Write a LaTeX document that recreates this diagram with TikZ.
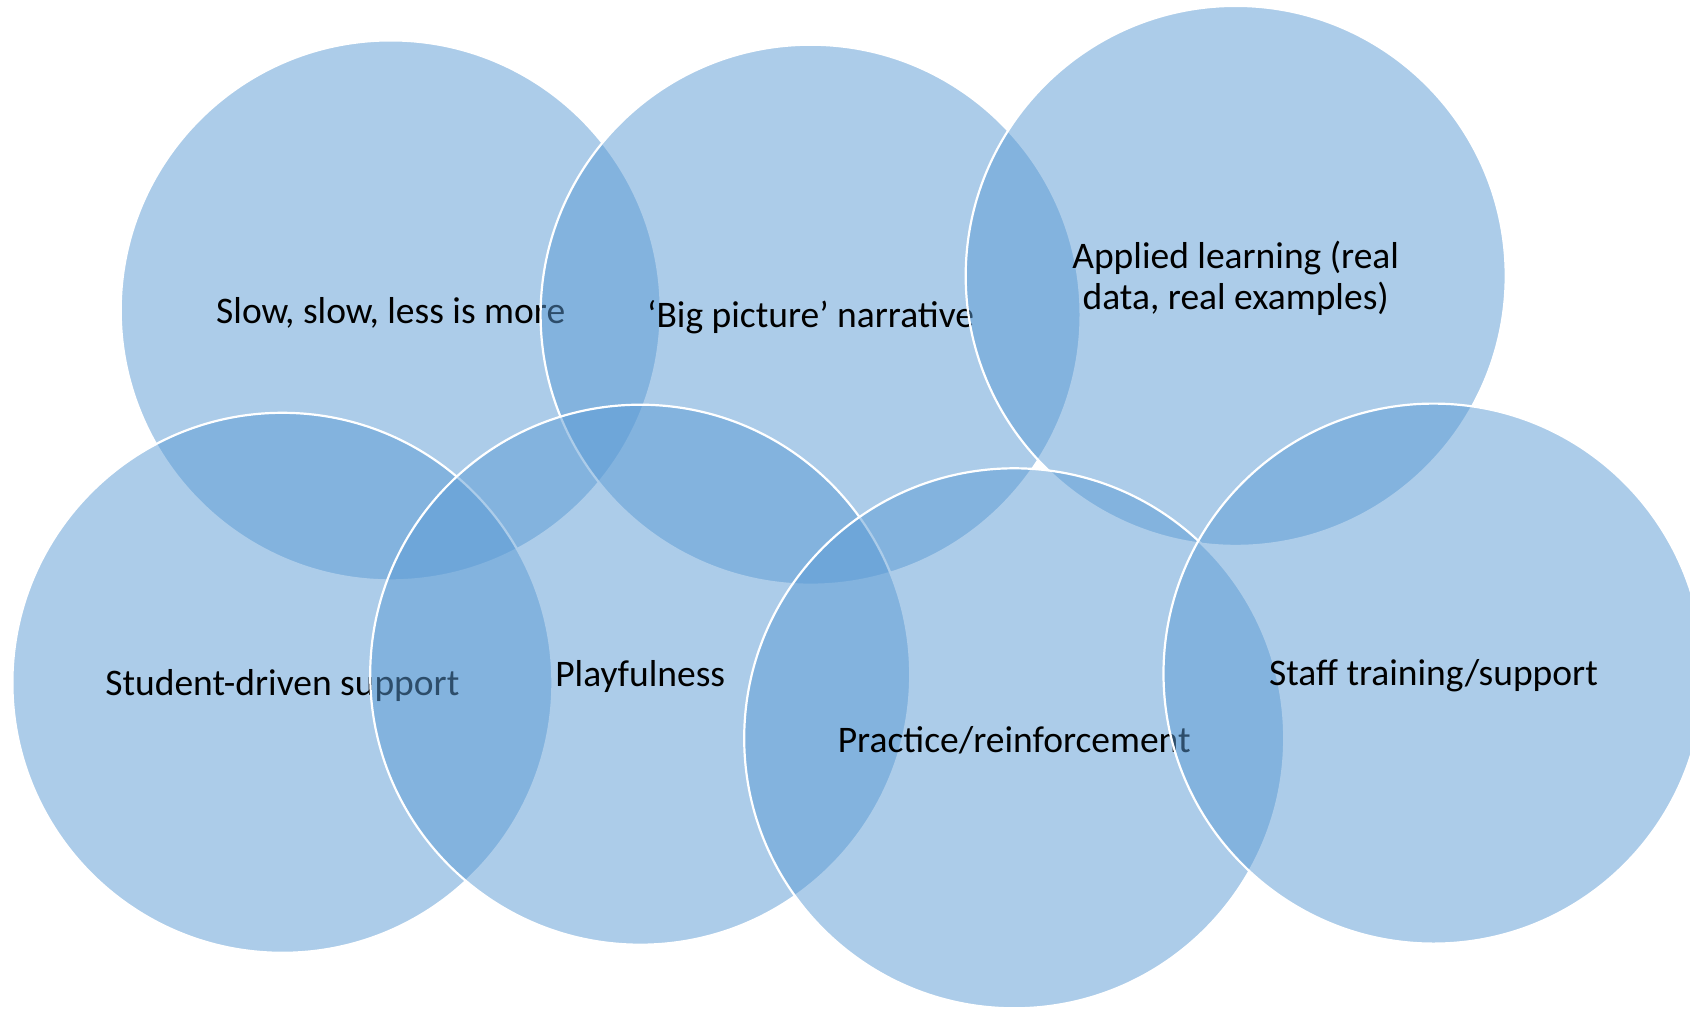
\documentclass[tikz,border=0pt]{standalone}
\usepackage{fontspec}
\setmainfont{Carlito}
\definecolor{accent}{RGB}{91,155,213}
\begin{document}
\begin{tikzpicture}[x=1pt,y=-1pt,
  venn/.style={circle, minimum size=540pt, inner sep=0pt,
    fill=accent, fill opacity=0.5,
    draw=white, draw opacity=1, line width=2.2pt},
  lbl/.style={text=black, align=center, inner sep=0pt,
    font=\fontsize{37.5}{41}\selectfont}]
\useasboundingbox (0,0) rectangle (1690,1009);
\fill[white] (0,0) rectangle (1690,1009);
\node[venn] (slow) at (390.7,310.4) {};
\node[lbl] (tslow) at ([yshift=-2pt]slow.center) {Slow, slow, less is more};
\node[venn] (big) at (810.6,314.7) {};
\node[lbl] (tbig) at ([yshift=-2pt]big.center) {‘Big picture’ narrative};
\node[venn] (applied) at (1235.7,275.9) {};
\node[lbl] (tapplied) at ([yshift=-2pt]applied.center) {Applied learning (real\\data, real examples)};
\node[venn] (student) at (282.4,682.8) {};
\node[lbl] (tstudent) at ([yshift=-2.5pt]student.center) {Student-driven support};
\node[venn] (play) at (640.2,674.7) {};
\node[lbl] (tplay) at ([yshift=-2pt]play.center) {Playfulness};
\node[venn] (practice) at (1014.2,738.3) {};
\node[lbl] (tpractice) at ([yshift=-2pt]practice.center) {Practice/reinforcement};
\node[venn] (staff) at (1433.5,673.6) {};
\node[lbl] (tstaff) at ([yshift=-2pt]staff.center) {Staff training/support};
\end{tikzpicture}
\end{document}
